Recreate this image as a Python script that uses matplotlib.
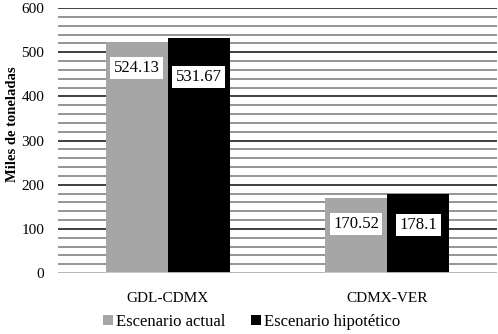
import numpy as np
import matplotlib.pyplot as plt
from matplotlib.ticker import MultipleLocator

plt.rcParams['font.family'] = 'Liberation Serif'

routes = ['GDL-CDMX', 'CDMX-VER']
actual = [524.13, 170.52]
hipotetico = [531.67, 178.1]
series_names = ['Escenario actual', 'Escenario hipotético']

fig = plt.figure(figsize=(4.98, 3.34), dpi=100)
ax = fig.add_axes([0.1165, 0.1826, 0.8815, 0.7934])

x = np.arange(len(routes))
w = 0.283
b1 = ax.bar(x - w / 2, actual, w, color='#a6a6a6', label=series_names[0], zorder=3)
b2 = ax.bar(x + w / 2, hipotetico, w, color='#000000', label=series_names[1], zorder=3)

ax.set_xlim(-0.5, 1.5)
ax.set_ylim(0, 600)
ax.yaxis.set_major_locator(MultipleLocator(100))
ax.yaxis.set_minor_locator(MultipleLocator(20))
ax.grid(which='major', axis='y', color='#303030', linewidth=1.3, zorder=0)
ax.grid(which='minor', axis='y', color='#8c8c8c', linewidth=1.3, zorder=0)
ax.axhline(0, color='#d0d0d0', linewidth=1.2, zorder=4)

for s in ax.spines.values():
    s.set_visible(False)
ax.tick_params(axis='both', which='both', length=0)
ax.tick_params(axis='y', labelsize=11, pad=10)
ax.tick_params(axis='x', labelsize=11, pad=14)
ax.set_xticks(x)
ax.set_xticklabels(routes)
ax.set_ylabel('Miles de toneladas', fontsize=10.5, fontweight='bold')
ax.yaxis.set_label_coords(-0.088, 0.562)

# data labels in white boxes, a bit below the bar tops
offsets = [[-19, -19], [-28, -22]]
for i, bars in enumerate([b1, b2]):
    for j, r in enumerate(bars):
        h = r.get_height()
        ax.annotate(f'{h:g}', (r.get_x() + r.get_width() / 2, h),
                    xytext=(0, offsets[i][j]), textcoords='offset points',
                    ha='center', va='center', fontsize=12, zorder=5,
                    bbox=dict(boxstyle='square,pad=0.2', fc='white', ec='none'))

fig.legend(handles=[b1, b2], loc='center', bbox_to_anchor=(0.505, 0.036), ncol=2,
           frameon=False, fontsize=12, handlelength=0.6, handleheight=0.6,
           handletextpad=0.2, columnspacing=1.5)

fig.savefig('out.png', dpi=100)
